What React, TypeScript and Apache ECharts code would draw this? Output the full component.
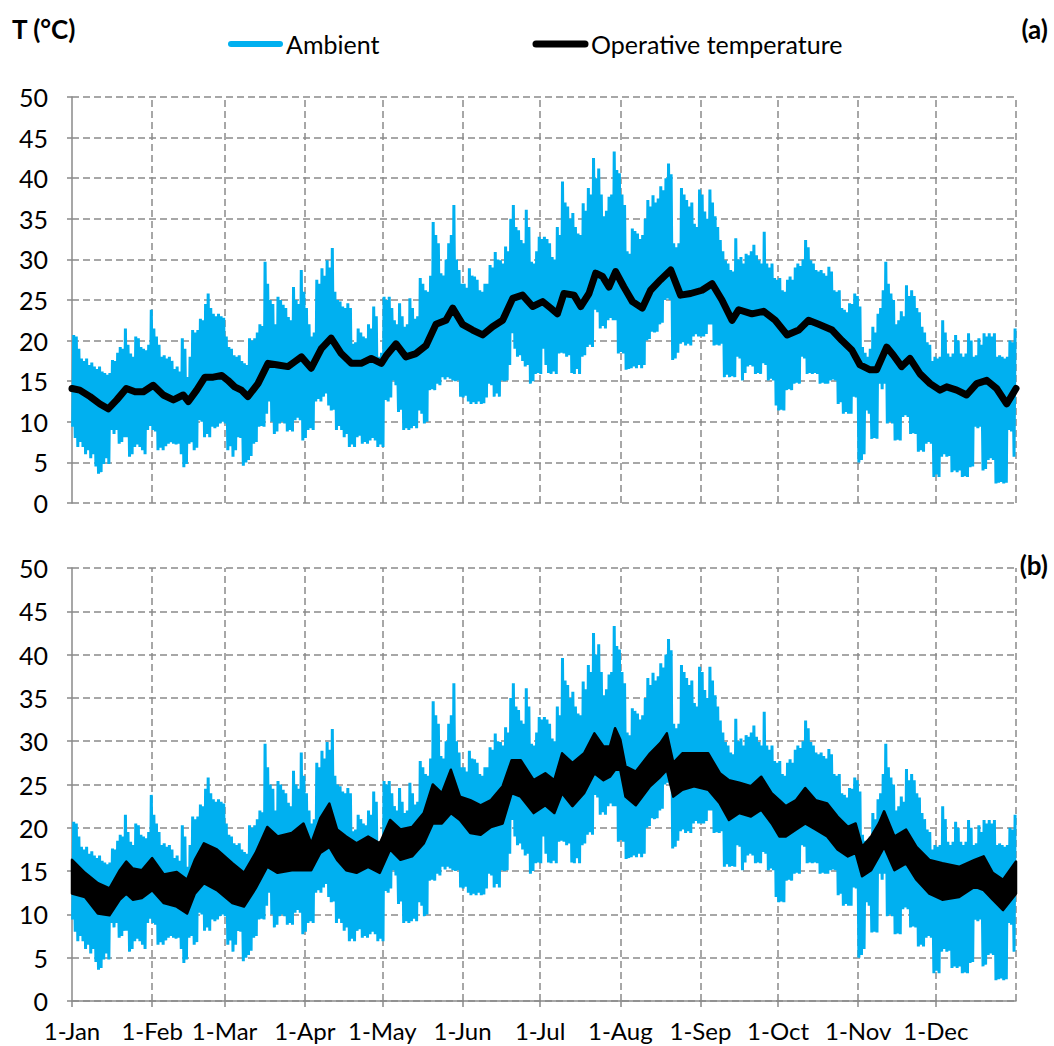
import React, { useEffect, useRef } from "react";
import * as echarts from "echarts";

// Month starts (day of year) and their labels
const monthStarts = [0, 31, 59, 90, 120, 151, 181, 212, 243, 273, 304, 334];
const monthLabels = ["1-Jan", "1-Feb", "1-Mar", "1-Apr", "1-May", "1-Jun", "1-Jul", "1-Aug", "1-Sep", "1-Oct", "1-Nov", "1-Dec"];
const yearEnd = 365;

// Ambient temperature: daily maximum (°C), day 0..364
const ambientMax = [
  20.7, 20.5, 19, 17.8, 17.5, 17.8, 17, 17.3, 16.8, 16.5,
  16.8, 16.2, 16, 15.8, 16, 17.6, 17.5, 18.5, 19.2, 19,
  21.5, 19.5, 18.4, 18, 20.5, 20.3, 19.2, 19, 18.8, 19.5,
  23.8, 21.5, 20.5, 19.5, 18, 18.2, 17.8, 18, 17.5, 16.5,
  16.8, 16.2, 20.3, 19, 15.5, 18, 21.3, 21, 21.3, 22.7,
  22.5, 24.5, 25.8, 24, 23.3, 23, 23.3, 23, 22.8, 20.5,
  19.2, 19, 18.2, 18, 18.2, 17.5, 17.2, 17, 20.3, 20,
  20.3, 21, 22, 21.8, 29.7, 27, 25, 24.5, 22, 25.4,
  25, 24.4, 24, 22.9, 22.5, 26.6, 25, 24.5, 28.7, 26,
  24, 22, 20.5, 21, 27.5, 27, 28.9, 28, 29.9, 29,
  31.4, 26, 25, 24.8, 24.2, 24, 24.6, 24, 19.6, 19.8,
  21.5, 21, 20.5, 20.3, 22, 21.5, 24.2, 23, 18, 18.5,
  25.4, 25, 25.4, 24, 22.5, 22, 24.6, 23, 21.7, 22,
  25.2, 24, 22.7, 23, 27.7, 27, 26.2, 26, 28, 34.6,
  33, 32, 28.3, 28, 30, 32, 33, 36.7, 30, 28.7,
  27, 27, 26.5, 28.9, 28, 27.9, 27.5, 26.2, 26, 27,
  27, 29.3, 29, 30.9, 30, 29.9, 29.5, 31.6, 31, 35,
  36.7, 34, 33.6, 32.4, 32, 36.1, 34, 29.7, 29.5, 31,
  32.8, 32.5, 32.8, 32.5, 32, 30.3, 30, 34, 33, 39.6,
  37, 36.5, 35, 35.7, 34, 33.2, 33, 36.9, 36, 38.8,
  38, 42.5, 40, 41.2, 38, 35.3, 36, 37.7, 38, 43.3,
  41, 40.6, 38, 36.7, 31, 30.7, 33.8, 33.5, 33.2, 32.5,
  33, 35, 37.3, 36.5, 37.9, 37, 37.5, 39, 38.5, 40,
  41.8, 40.5, 32, 31.5, 32, 38.8, 38, 37.3, 36.5, 37,
  34.4, 34, 38.6, 38, 35.9, 35, 38.6, 37, 35.3, 34,
  32.4, 31, 29.9, 29.5, 28.7, 28.5, 32.6, 30, 30.3, 29.5,
  30.7, 30.5, 31, 31.8, 30.5, 29.9, 29.5, 33.4, 29.5, 29,
  29.5, 27.7, 27.5, 27.7, 26.2, 26, 27.5, 27.9, 27.5, 29,
  29.5, 29.2, 30, 32.4, 31.5, 29.9, 29.5, 28.7, 28.5, 28.7,
  28.3, 28, 29.1, 28.5, 26.2, 26, 26.2, 24, 23.8, 23.5,
  24.6, 24.5, 25.8, 25.5, 24.2, 19.2, 18.5, 18, 19, 21.7,
  21, 23.3, 24, 26.2, 29.7, 27, 25.8, 25, 22, 22.5,
  23.6, 23, 26.8, 25.5, 26.2, 25.5, 24, 23.5, 21.7, 21,
  19.8, 19.5, 17.5, 18, 17.8, 18, 22.5, 21, 18.4, 18,
  18.4, 20.7, 20, 18.4, 18, 18.4, 20.9, 20, 18, 18.2,
  20.3, 19.5, 20.9, 20.5, 20.9, 20.5, 20.9, 18, 18.2, 18,
  17.8, 18, 20, 19.8, 21.5,
];

// Ambient temperature: daily minimum (°C), day 0..364
const ambientMin = [
  9.4, 8, 6.9, 7.5, 6.9, 6, 6.5, 5.5, 6, 4.5,
  3.6, 3.8, 4.8, 5.5, 4.8, 9, 8.5, 9, 7.3, 7.5,
  8.1, 8.1, 5.7, 6, 6.9, 7.2, 6.9, 6.5, 6, 9,
  9.5, 9, 8.8, 6.5, 6.8, 6.5, 7, 7.3, 7.5, 7.3,
  7.2, 7.3, 6, 4.4, 4.8, 7.3, 7.5, 6.5, 6.8, 10.2,
  10, 8.1, 8.5, 8.1, 9.4, 9.2, 9.4, 9.8, 10, 9.8,
  6.5, 7, 5.7, 6.5, 8.1, 8, 4.6, 5, 5.3, 5.8,
  7.3, 7.5, 9.4, 9.5, 9.4, 11, 12.5, 10, 8.5, 8.8,
  9.8, 10, 9.8, 8.8, 9, 8.8, 10.2, 10.5, 10.2, 7.7,
  8, 9, 9.2, 9, 12.5, 12.8, 12.5, 13.1, 13.5, 12,
  11.4, 11.5, 9, 9.5, 9, 8.1, 8.5, 6.9, 7.2, 6.9,
  8.1, 8.3, 7.3, 7.5, 7.3, 7.7, 8, 7.7, 6.9, 7.2,
  6.9, 12.7, 12.5, 13, 15.1, 14.5, 11.2, 11.5, 9, 9.2,
  9, 9.2, 9.5, 9.2, 11.4, 11, 9.8, 10, 13.9, 14,
  13.9, 14.7, 14.5, 15.5, 15.2, 15.5, 15.3, 15.1, 15, 15.1,
  13.1, 13, 13.2, 12.5, 12.2, 12.4, 12.2, 12.5, 12.2, 12.3,
  13, 14.7, 14.5, 13.1, 13.5, 13.1, 15.1, 15, 15.1, 17,
  20.9, 19, 18, 18.2, 17.5, 16.8, 17, 14.7, 15, 15.9,
  16, 15.9, 19, 17, 16, 15.9, 16.2, 15.9, 18.4, 18.5,
  18.4, 18, 18.2, 16, 15.9, 16.5, 15.9, 18, 18.2, 19.2,
  19.5, 19.2, 23.8, 23.5, 21.5, 21.8, 21.5, 22.5, 22.8, 22.5,
  22.5, 18.4, 18.6, 18.4, 16.4, 16.5, 16.6, 16.8, 16.6, 17,
  16.6, 17, 20, 20.2, 21.1, 21, 21.1, 22, 22.2, 25,
  25.2, 25, 17.6, 17.8, 18.5, 19.6, 19.8, 19.4, 19.6, 19.4,
  20.5, 20.8, 20.5, 20.5, 20.5, 20.8, 22, 22, 19.4, 19.5,
  19.4, 19.6, 15.5, 15.8, 15.5, 15.6, 15.5, 18, 17.8, 15.1,
  16, 16.8, 17, 16.8, 15.9, 16, 15.9, 17.2, 17, 15.1,
  15.3, 15.1, 12, 11.4, 11.5, 11.4, 13.9, 14, 13.9, 14.7,
  14.8, 14.7, 18, 17.8, 15.9, 16, 15.9, 16, 15.9, 14.7,
  14.8, 14.7, 14.7, 15.1, 15.2, 15.1, 12.2, 12.4, 11, 11.2,
  11, 11, 13.1, 13, 5, 5.3, 6, 11.4, 11, 7.9,
  8, 7.9, 14.7, 14, 14.7, 9.8, 10, 9.8, 7.7, 7.8,
  7.7, 10.6, 10.8, 10.6, 8.5, 8.6, 8.5, 6.3, 6.5, 6.3,
  7.3, 7.5, 7.3, 3.2, 3.5, 3.2, 5.7, 6, 5.7, 5.8,
  3.8, 4, 3.8, 4, 3.2, 3.3, 3.2, 4.4, 4.5, 9.4,
  9.2, 9.4, 4, 4.2, 5.3, 5.5, 5.3, 2.4, 2.5, 2.6,
  2.4, 2.5, 9, 8.8, 5.7,
];

// Panel (a): operative temperature, [day, °C]
const operativeA: [number, number][] = [
  [0, 14.1], [3, 13.9], [7, 13.1], [10.8, 12.2], [14, 11.6], [17.3, 12.7], [21, 14.1], [24.4, 13.7],
  [27.6, 13.7], [31.4, 14.5], [35.3, 13.3], [39.2, 12.7], [43, 13.3], [45, 12.5], [48.2, 13.9],
  [51.4, 15.5], [54.6, 15.5], [57.9, 15.7], [60.3, 15.1], [62.9, 14.3], [65.5, 13.9], [68, 13.1],
  [71.9, 14.7], [75.8, 17.2], [79.6, 17], [83.5, 16.8], [86.1, 17.4], [88.7, 18], [92.5, 16.6],
  [96.4, 19], [100.2, 20.3], [104.1, 18.4], [108, 17.2], [111.8, 17.2], [115.7, 17.8], [119.6, 17.2],
  [121.4, 18.1], [125.3, 19.6], [129.1, 18], [133, 18.4], [136.9, 19.4], [140.7, 22], [144.6, 22.5],
  [147.2, 24], [151, 22], [154.9, 21.3], [158.8, 20.7], [162.6, 21.7], [166.5, 22.5], [170.4, 25.2],
  [174.2, 25.6], [178.1, 24.2], [182, 24.8], [185.1, 24], [187.7, 23.3], [190.2, 25.8], [194.1, 25.6],
  [196.7, 24.2], [199.9, 25.8], [202.5, 28.3], [205.1, 27.9], [207.6, 26.6], [210.2, 28.5], [213.4, 26.6],
  [216.7, 24.8], [220.5, 24], [223.7, 26.2], [227.6, 27.5], [231.5, 28.7], [235.3, 25.6], [239.2, 25.8],
  [243.6, 26.2], [247.5, 27], [251.3, 25], [255.2, 22.5], [257.8, 23.8], [262.9, 23.3], [267.4, 23.6],
  [271.9, 22.5], [276.5, 20.7], [281, 21.3], [284.8, 22.5], [288.7, 22], [293.9, 21.3], [297.7, 20],
  [301.6, 18.8], [304.7, 17], [308.6, 16.4], [311.1, 16.4], [315, 19.2], [317.6, 18.2], [320.8, 16.8],
  [324, 17.8], [327.9, 15.9], [331.8, 14.7], [335.6, 13.9], [338.2, 14.3], [342.1, 13.9], [345.9, 13.3],
  [349.8, 14.7], [353.7, 15.1], [357.5, 14.1], [361.4, 12.2], [365, 14.1],
];

// Panel (b): operative temperature daily range, read in spans starting at these days
const operativeBStart = [
  0, 2, 8, 12, 17, 20, 22, 25, 29, 33, 38, 43, 46, 49, 53, 59, 65, 68, 74, 77,
  82, 88, 91, 94, 98, 101, 104, 108, 112, 117, 121, 125, 129, 134, 138, 141, 145, 148, 152, 156,
  160, 164, 169, 171, 176, 181, 185, 188, 191, 196, 200, 204, 207, 209, 211, 213, 215, 221, 226, 229,
  231, 234, 238, 243, 249, 252, 256, 260, 265, 268, 273, 274, 278, 282, 285, 290, 294, 298, 302, 304,
  307, 311, 313, 315, 321, 324, 329, 334, 339, 347, 351, 354, 358, 362,
];
const operativeBMax = [
  16.3, 14.8, 13.6, 13, 15.1, 16.1, 15.3, 15.1, 16.5, 14.6, 14.9, 14, 16.3, 18.2, 17.5, 15.9, 14.8, 17.1, 20.1, 19,
  19.4, 20.5, 18.2, 21.1, 22.8, 19.8, 19, 18.2, 19, 18.2, 20.9, 19.8, 20.1, 21.7, 25, 24, 26.7, 23.6, 23.2, 22.6,
  23.2, 24.8, 27.8, 27.8, 25.5, 26.3, 25.5, 28.6, 27.5, 28.6, 30.9, 29.4, 29.4, 31.5, 30.2, 27.1, 26.5, 28.6, 29.8, 30.9,
  27.5, 28.6, 28.6, 28.6, 26.3, 25.5, 25.2, 24.8, 25.9, 24, 23.2, 22.5, 23.2, 24.6, 23.2, 22.8, 21.3, 20.1, 20.5, 17.8,
  19, 20.5, 21.9, 19, 19.8, 17.8, 16.3, 15.9, 15.5, 16.3, 16.7, 14.8, 14, 16.1,
];
const operativeBMin = [
  12.4, 12, 10.1, 9.9, 11.7, 12.4, 11.7, 11.9, 12.8, 11.3, 10.9, 10.1, 12.4, 13.6, 12.8, 11.3, 10.9, 13, 15.5, 14.8,
  15.1, 15.1, 15.1, 17.1, 17.8, 16.3, 15.1, 14.8, 15.5, 14.8, 17.5, 16.3, 16.7, 18.2, 20.5, 20.5, 21.7, 20.9, 19.4, 19.2,
  20.1, 20.5, 24, 23.6, 21.7, 22.6, 21.7, 24, 22.5, 24, 26.3, 25.5, 25.9, 26.7, 26.7, 23.6, 22.6, 24.8, 25.9, 26.7,
  23.6, 24.4, 24.8, 24.4, 22.8, 20.9, 21.7, 21.3, 22.1, 20.5, 19, 19, 19.8, 20.5, 19.8, 19, 17.5, 16.7, 17.1, 14.4,
  15.1, 16.7, 17.8, 15.1, 15.9, 14, 12.4, 11.7, 12, 13.2, 12.8, 11.7, 10.5, 12.4,
];

const FONT = "Lato, 'Noto Sans', sans-serif";
const BLUE = "#00B0F0";
const GRID_GREY = "#8a8a8a";
const FS = 25;

function dailyPoints(mins: number[], maxs: number[]): [number, number][] {
  const pts: [number, number][] = [];
  for (let d = 0; d < mins.length; d++) {
    pts.push([d + 0.25, mins[d]]);
    pts.push([d + 0.65, maxs[d]]);
  }
  return pts;
}

// span mid-days (first span pinned to its start, last span to the year end)
function spanDays(starts: number[], end: number): number[] {
  return starts.map((s, i) => {
    const stop = i + 1 < starts.length ? starts[i + 1] : end;
    if (i === 0) return s;
    if (i === starts.length - 1) return stop;
    return (s + stop) / 2;
  });
}

export default function App() {
  const ref = useRef<HTMLDivElement>(null);

  useEffect(() => {
    if (!ref.current) return;
    const chart = echarts.init(ref.current, undefined, { renderer: "svg" });

    const ambientData = dailyPoints(ambientMin, ambientMax);
    const bDays = spanDays(operativeBStart, yearEnd);

    const verticalGrid = {
      silent: true,
      symbol: ["none", "none"],
      z: 1,
      label: { show: false },
      lineStyle: { type: [7, 4], color: GRID_GREY, width: 1.5 },
      emphasis: { disabled: true },
      data: [...monthStarts.slice(1), yearEnd].map((v) => ({ xAxis: v })),
    };

    const yAxisBase = (gridIndex: number) => ({
      type: "value",
      gridIndex,
      min: 0,
      max: 50,
      interval: 5,
      axisLine: { show: true, lineStyle: { color: GRID_GREY, width: 1.5 } },
      axisTick: { show: true, length: 5, lineStyle: { color: GRID_GREY, width: 1.5 } },
      splitLine: { show: true, lineStyle: { type: [7, 4], color: GRID_GREY, width: 1.5 } },
      axisLabel: { fontFamily: FONT, fontSize: FS, color: "#000", margin: 24 },
    });

    chart.setOption({
      animation: false,
      grid: [
        { left: 72, top: 97, width: 944, height: 406 },
        { left: 72, top: 568, width: 944, height: 433 },
      ],
      xAxis: [
        {
          type: "value",
          gridIndex: 0,
          min: 0,
          max: yearEnd,
          axisLine: { show: false },
          axisTick: { show: false },
          axisLabel: { show: false },
          splitLine: { show: false },
        },
        {
          type: "value",
          gridIndex: 1,
          min: 0,
          max: yearEnd,
          axisLine: { show: true, onZero: false, lineStyle: { color: GRID_GREY, width: 1.5 } },
          axisTick: { show: true, length: 6, customValues: monthStarts, lineStyle: { color: GRID_GREY, width: 1.5 } },
          axisLabel: {
            customValues: monthStarts,
            formatter: (v: number) => {
              const i = monthStarts.indexOf(Math.round(v));
              return i >= 0 ? monthLabels[i] : "";
            },
            fontFamily: FONT,
            fontSize: 24,
            lineHeight: 24,
            color: "#000",
            margin: 17,
          },
          splitLine: { show: false },
        },
      ],
      yAxis: [yAxisBase(0), yAxisBase(1)],
      series: [
        {
          name: "Ambient",
          type: "line",
          xAxisIndex: 0,
          yAxisIndex: 0,
          data: ambientData,
          symbol: "none",
          lineStyle: { color: BLUE, width: 3 },
          z: 2,
          markLine: verticalGrid,
        },
        {
          name: "Operative temperature",
          type: "line",
          xAxisIndex: 0,
          yAxisIndex: 0,
          data: operativeA,
          symbol: "none",
          lineStyle: { color: "#000", width: 7, cap: "round", join: "round" },
          z: 3,
        },
        {
          name: "Ambient",
          type: "line",
          xAxisIndex: 1,
          yAxisIndex: 1,
          data: ambientData,
          symbol: "none",
          lineStyle: { color: BLUE, width: 3 },
          z: 2,
          markLine: verticalGrid,
        },
        {
          name: "Operative temperature",
          type: "custom",
          xAxisIndex: 1,
          yAxisIndex: 1,
          data: [[0, 0]],
          z: 3,
          silent: true,
          renderItem: (params: any, api: any) => {
            if (params.dataIndex !== 0) return null;
            const pts: number[][] = [];
            for (let i = 0; i < bDays.length; i++) pts.push(api.coord([bDays[i], operativeBMax[i]]));
            for (let i = bDays.length - 1; i >= 0; i--) pts.push(api.coord([bDays[i], operativeBMin[i]]));
            return {
              type: "polygon",
              shape: { points: pts },
              style: { fill: "#000", stroke: "#000", lineWidth: 2.5, lineJoin: "round" },
            };
          },
        },
      ],
      graphic: [
        {
          type: "text",
          left: 12,
          top: 16,
          style: { text: "T (°C)", fontFamily: FONT, fontWeight: "bold", fontSize: 26, fill: "#000" },
        },
        {
          type: "text",
          right: 6,
          top: 16,
          style: { text: "(a)", fontFamily: FONT, fontWeight: "bold", fontSize: 26, fill: "#000" },
        },
        {
          type: "text",
          right: 6,
          top: 552,
          style: { text: "(b)", fontFamily: FONT, fontWeight: "bold", fontSize: 26, fill: "#000" },
        },
        {
          type: "line",
          shape: { x1: 231, y1: 44, x2: 280, y2: 44 },
          style: { stroke: BLUE, lineWidth: 6, lineCap: "round" },
        },
        {
          type: "text",
          x: 286,
          y: 44,
          style: { text: "Ambient", fontFamily: FONT, fontSize: FS, fill: "#000", textVerticalAlign: "middle" },
        },
        {
          type: "line",
          shape: { x1: 536, y1: 44, x2: 585, y2: 44 },
          style: { stroke: "#000", lineWidth: 7, lineCap: "round" },
        },
        {
          type: "text",
          x: 591,
          y: 44,
          style: {
            text: "Operative temperature",
            fontFamily: FONT,
            fontSize: FS,
            fill: "#000",
            textVerticalAlign: "middle",
          },
        },
      ],
    });

    return () => chart.dispose();
  }, []);

  return (
    <div
      ref={ref}
      style={{ position: "absolute", left: 0, top: 0, width: 1054, height: 1046, background: "#fff" }}
    />
  );
}
